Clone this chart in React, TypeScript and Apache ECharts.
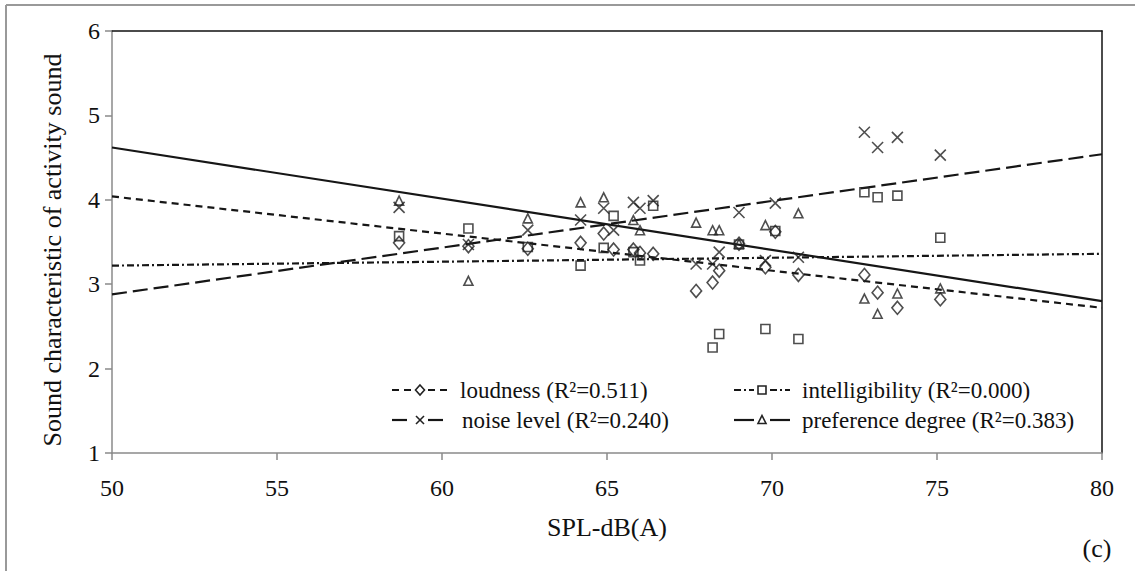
import React, { useEffect, useRef } from "react";
import * as echarts from "echarts";

// SPL values (dB(A)) of the activity sounds
const spl = [58.7, 60.8, 62.6, 64.2, 64.9, 65.2, 65.8, 66.0, 66.4, 67.7, 68.2, 68.4, 69.0, 69.8, 70.1, 70.8, 72.8, 73.2, 73.8, 75.1];
const loudness = [3.49, 3.45, 3.42, 3.49, 3.6, 3.41, 3.41, 3.37, 3.36, 2.92, 3.02, 3.16, 3.48, 3.2, 3.62, 3.11, 3.11, 2.9, 2.72, 2.82];
const intelligibility = [3.57, 3.66, 3.44, 3.22, 3.43, 3.81, 3.38, 3.28, 3.93, null, 2.25, 2.41, 3.47, 2.47, 3.63, 2.35, 4.09, 4.03, 4.05, 3.55];
const noiseLevel = [3.91, 3.47, 3.64, 3.76, 3.9, 3.64, 3.97, 3.9, 3.99, 3.24, 3.24, 3.38, 3.85, 3.28, 3.96, 3.32, 4.8, 4.62, 4.74, 4.53];
const preference = [3.99, 3.04, 3.78, 3.97, 4.03, null, 3.76, 3.64, null, 3.73, 3.64, 3.64, 3.48, 3.7, null, 3.84, 2.83, 2.65, 2.89, 2.95];

// regression line end points
const trendX = [50, 80];
const loudnessTrend = [4.04, 2.72];
const intelligibilityTrend = [3.22, 3.36];
const noiseTrend = [2.88, 4.54];
const preferenceTrend = [4.62, 2.8];

const legendLabels = [
  "loudness (R\u00B2=0.511)",
  "intelligibility (R\u00B2=0.000)",
  "noise level (R\u00B2=0.240)",
  "preference degree (R\u00B2=0.383)",
];

const xTicks = [50, 55, 60, 65, 70, 75, 80];
const yTicks = [1, 2, 3, 4, 5, 6];

const FONT = '"Liberation Serif", "Times New Roman", serif';
const LINE = "#161616";
const MARK = "#222";
const CROSS = "path://M0,0L10,10M10,0L0,10";

const pairs = (xs: number[], ys: (number | null)[]) =>
  xs.map((x, i) => [x, ys[i]]).filter((p) => p[1] !== null);

const dashes: Record<string, number[] | string> = {
  loudness: [7, 5],
  intelligibility: [7, 3, 2, 3],
  noise: [15, 6],
  preference: "solid",
};

function legendItem(cx: number, cy: number, kind: string, textX: number, label: string) {
  const dash = dashes[kind];
  const ls: any = { stroke: LINE, lineWidth: 2.2 };
  if (Array.isArray(dash)) ls.lineDash = dash;
  const els: any[] = [
    { type: "line", shape: { x1: cx - 28, y1: cy, x2: cx - 8, y2: cy }, style: ls },
    { type: "line", shape: { x1: cx + 8, y1: cy, x2: cx + 28, y2: cy }, style: ls },
  ];
  const ms = { stroke: MARK, lineWidth: 1.6, fill: "none" };
  if (kind === "loudness") {
    els.push({ type: "polygon", shape: { points: [[cx, cy - 5], [cx + 4.5, cy], [cx, cy + 5], [cx - 4.5, cy]] }, style: ms });
  } else if (kind === "intelligibility") {
    els.push({ type: "rect", shape: { x: cx - 4, y: cy - 4, width: 8, height: 8 }, style: ms });
  } else if (kind === "noise") {
    els.push({ type: "line", shape: { x1: cx - 4, y1: cy - 4, x2: cx + 4, y2: cy + 4 }, style: ms });
    els.push({ type: "line", shape: { x1: cx + 4, y1: cy - 4, x2: cx - 4, y2: cy + 4 }, style: ms });
  } else {
    els.push({ type: "polygon", shape: { points: [[cx, cy - 4.5], [cx + 4, cy + 3.5], [cx - 4, cy + 3.5]] }, style: ms });
  }
  els.push({
    type: "text",
    x: textX,
    y: cy,
    style: { text: label, font: `23px ${FONT}`, fill: "#111", textVerticalAlign: "middle", textAlign: "left" },
  });
  return els;
}

export default function App() {
  const ref = useRef<HTMLDivElement>(null);
  useEffect(() => {
    if (!ref.current) return;
    const chart = echarts.init(ref.current, null, { renderer: "svg" });
    const scatterBase = {
      type: "scatter",
      itemStyle: { color: "transparent", borderColor: MARK, borderWidth: 1.6 },
      z: 3,
    };
    const trend = (ys: number[], dash: any) => ({
      type: "line",
      data: trendX.map((x, i) => [x, ys[i]]),
      showSymbol: false,
      symbol: "none",
      lineStyle: { color: LINE, width: 2.2, type: dash },
      z: 2,
    });
    const option: any = {
      animation: false,
      backgroundColor: "#fff",
      textStyle: { fontFamily: FONT },
      grid: { left: 112, right: 33, top: 31, bottom: 118 },
      xAxis: [
        {
          type: "value",
          min: xTicks[0],
          max: xTicks[xTicks.length - 1],
          interval: 5,
          axisLine: { show: true, lineStyle: { color: "#8a8a8a", width: 1.5 } },
          axisTick: { show: true, length: 7, lineStyle: { color: "#8a8a8a", width: 1.5 } },
          axisLabel: { fontSize: 24, color: "#111", margin: 23, fontFamily: FONT },
          splitLine: { show: false },
          name: "SPL-dB(A)",
          nameLocation: "middle",
          nameGap: 61,
          nameTextStyle: { fontSize: 26, color: "#111", fontFamily: FONT },
        },
        {
          type: "value",
          position: "top",
          min: xTicks[0],
          max: xTicks[xTicks.length - 1],
          axisLine: { show: true, lineStyle: { color: "#111", width: 1.5 } },
          axisTick: { show: false },
          axisLabel: { show: false },
          splitLine: { show: false },
        },
      ],
      yAxis: [
        {
          type: "value",
          min: yTicks[0],
          max: yTicks[yTicks.length - 1],
          interval: 1,
          axisLine: { show: true, lineStyle: { color: "#8a8a8a", width: 1.5 } },
          axisTick: { show: true, length: 7, lineStyle: { color: "#8a8a8a", width: 1.5 } },
          axisLabel: { fontSize: 24, color: "#111", margin: 12, fontFamily: FONT },
          splitLine: { show: false },
        },
        {
          type: "value",
          position: "right",
          min: yTicks[0],
          max: yTicks[yTicks.length - 1],
          axisLine: { show: true, lineStyle: { color: "#111", width: 1.5 } },
          axisTick: { show: false },
          axisLabel: { show: false },
          splitLine: { show: false },
        },
      ],
      series: [
        trend(loudnessTrend, dashes.loudness),
        trend(intelligibilityTrend, dashes.intelligibility),
        trend(noiseTrend, dashes.noise),
        trend(preferenceTrend, "solid"),
        { ...scatterBase, name: "loudness", symbol: "diamond", symbolSize: [11, 13], data: pairs(spl, loudness) },
        { ...scatterBase, name: "intelligibility", symbol: "rect", symbolSize: 9, data: pairs(spl, intelligibility) },
        { ...scatterBase, name: "noise level", symbol: CROSS, symbolSize: 11, data: pairs(spl, noiseLevel) },
        { ...scatterBase, name: "preference degree", symbol: "triangle", symbolSize: 9, data: pairs(spl, preference) },
      ],
      graphic: [
        { type: "line", shape: { x1: 6, y1: 5, x2: 1135, y2: 5 }, style: { stroke: "#999", lineWidth: 2 } },
        { type: "line", shape: { x1: 6, y1: 5, x2: 6, y2: 571 }, style: { stroke: "#999", lineWidth: 2 } },
        {
          type: "text",
          x: 52,
          y: 250,
          rotation: Math.PI / 2,
          style: {
            text: "Sound characteristic of activity sound",
            font: `26px ${FONT}`,
            fill: "#111",
            textAlign: "center",
            textVerticalAlign: "middle",
          },
        },
        ...legendItem(420, 390, "loudness", 460, legendLabels[0]),
        ...legendItem(762, 390, "intelligibility", 802, legendLabels[1]),
        ...legendItem(420, 420, "noise", 462, legendLabels[2]),
        ...legendItem(762, 420, "preference", 802, legendLabels[3]),
        {
          type: "text",
          x: 1097,
          y: 548,
          style: { text: "(c)", font: `26px ${FONT}`, fill: "#111", textAlign: "center", textVerticalAlign: "middle" },
        },
      ],
    };
    chart.setOption(option);
    return () => chart.dispose();
  }, []);
  return <div ref={ref} style={{ position: "fixed", left: 0, top: 0, width: 1135, height: 571 }} />;
}
